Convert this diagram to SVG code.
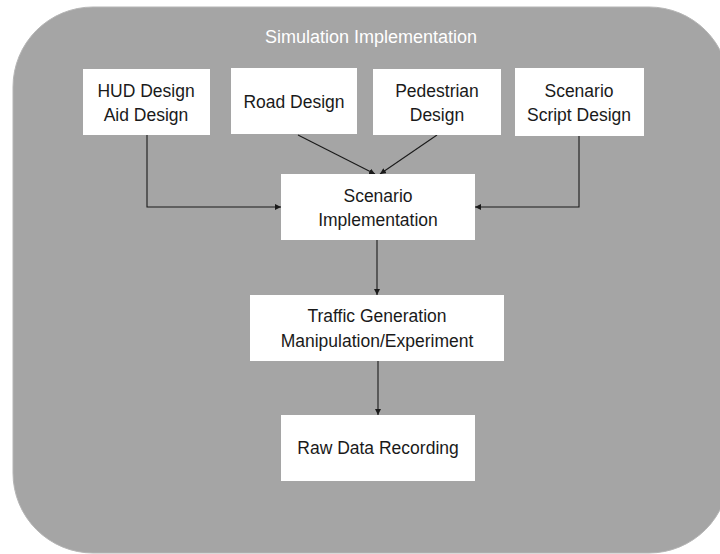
<svg xmlns="http://www.w3.org/2000/svg" width="720" height="554" viewBox="0 0 720 554">
<defs>
<marker id="arr" viewBox="0 0 10 10" refX="10" refY="5" markerWidth="6" markerHeight="6" orient="auto" markerUnits="userSpaceOnUse">
<path d="M0,0 L10,5 L0,10 z" fill="#1a1a1a"/>
</marker>
<style>
.box{fill:#ffffff;}
.t{font-family:"Liberation Sans",Arial,sans-serif;font-size:17.5px;fill:#1a1a1a;text-anchor:middle;}
.title{font-family:"Liberation Sans",Arial,sans-serif;font-size:18px;fill:#ffffff;text-anchor:middle;}
.c{stroke:#1a1a1a;stroke-width:1.1;fill:none;marker-end:url(#arr);}
</style>
</defs>
<rect x="0" y="0" width="720" height="554" fill="#ffffff"/>
<g id="container">
<rect x="13" y="7" width="716" height="546" rx="80" ry="80" fill="#a5a5a5" stroke="#b5b5b5" stroke-width="1"/>
<text class="title" x="371" y="43">Simulation Implementation</text>
</g>
<g id="connectors">
<path class="c" d="M147,135 V207 H281"/>
<path class="c" d="M579,136 V207 H475"/>
<path class="c" d="M298,135 L375,174"/>
<path class="c" d="M437,135 L380,174"/>
<path class="c" d="M377,240 V295"/>
<path class="c" d="M378,361 V415"/>
</g>
<g id="hud">
<rect class="box" x="83" y="69" width="127" height="66"/>
<text class="t" x="146" y="97">HUD Design</text>
<text class="t" x="146" y="121">Aid Design</text>
</g>
<g id="road">
<rect class="box" x="231" y="68" width="126" height="66"/>
<text class="t" x="294" y="108">Road Design</text>
</g>
<g id="pedestrian">
<rect class="box" x="373" y="69" width="128" height="66"/>
<text class="t" x="437" y="97">Pedestrian</text>
<text class="t" x="437" y="121">Design</text>
</g>
<g id="script">
<rect class="box" x="515" y="68" width="129" height="68"/>
<text class="t" x="579" y="97">Scenario</text>
<text class="t" x="579" y="121">Script Design</text>
</g>
<g id="scenario-impl">
<rect class="box" x="281" y="174" width="194" height="66"/>
<text class="t" x="378" y="202">Scenario</text>
<text class="t" x="378" y="226">Implementation</text>
</g>
<g id="traffic">
<rect class="box" x="250" y="295" width="254" height="66"/>
<text class="t" x="377" y="322">Traffic Generation</text>
<text class="t" x="377" y="347">Manipulation/Experiment</text>
</g>
<g id="raw">
<rect class="box" x="281" y="415" width="194" height="66"/>
<text class="t" x="378" y="454">Raw Data Recording</text>
</g>
</svg>
